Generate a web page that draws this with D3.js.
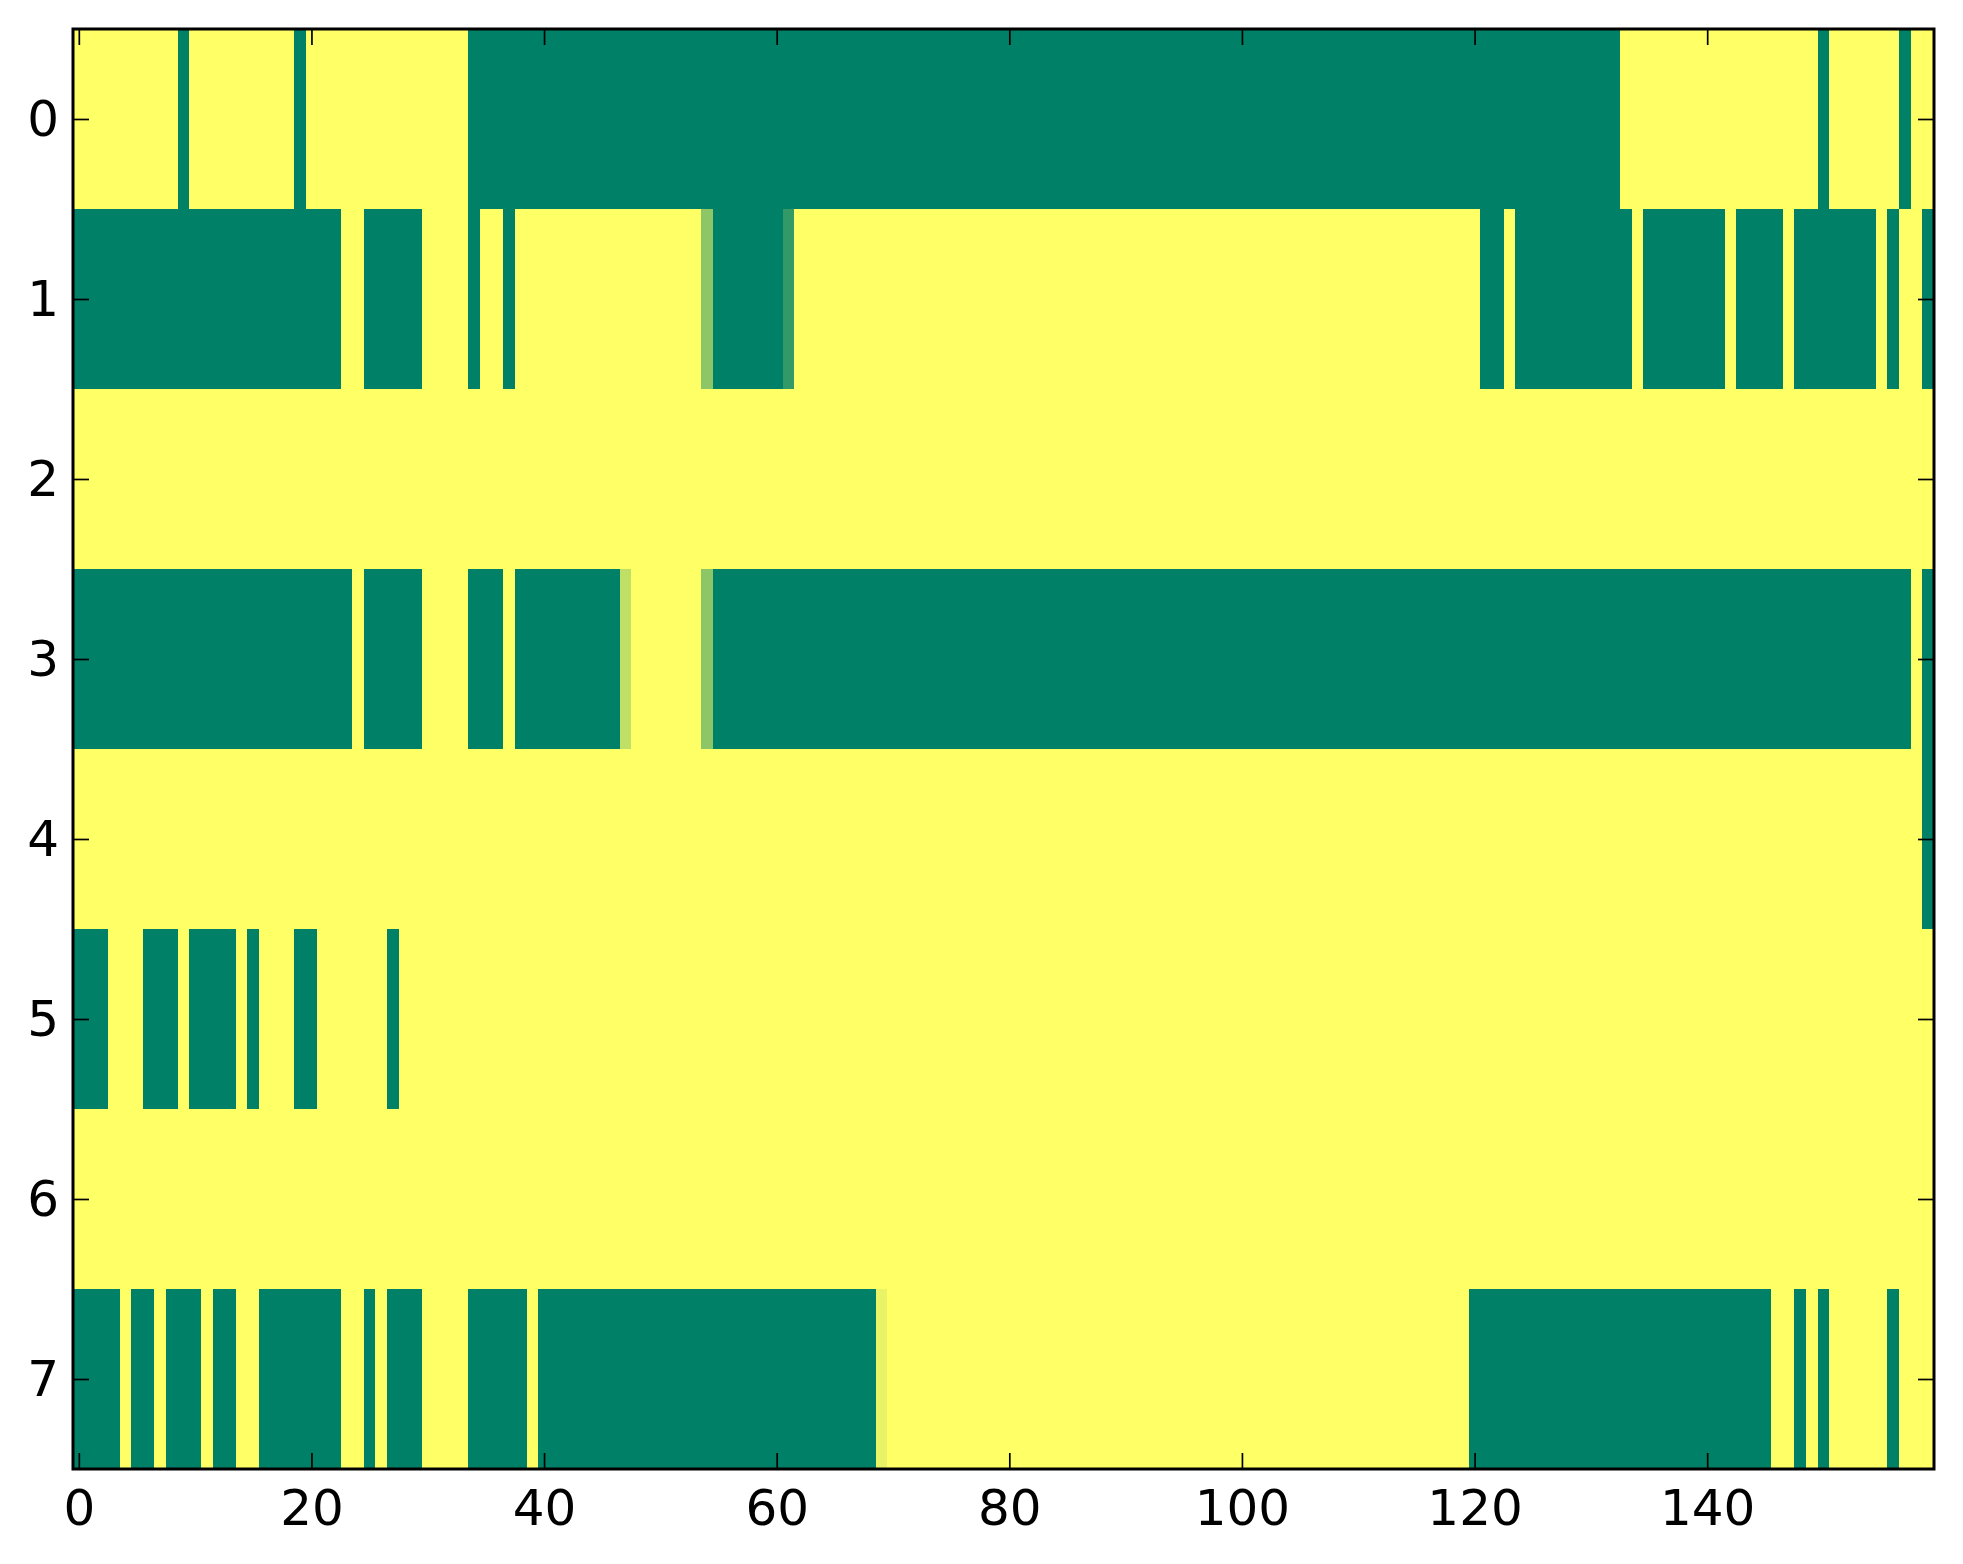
<!DOCTYPE html>
<html>
<head>
<meta charset="utf-8">
<script src="https://cdn.jsdelivr.net/npm/d3@7"></script>
<style>
  body { margin: 0; background: #fff; }
  svg { display: block; }
  .axis text { font-family: "DejaVu Sans", sans-serif; font-size: 50px; fill: #000; }
</style>
</head>
<body>
<script>
// 8 rows x 160 columns, 0 = green end, 1 = yellow end of the "summer" map
var row0 = [
  1,1,1,1,1,1,1,1,1,0, 1,1,1,1,1,1,1,1,1,0,
  1,1,1,1,1,1,1,1,1,1, 1,1,1,1,0,0,0,0,0,0,
  0,0,0,0,0,0,0,0,0,0, 0,0,0,0,0,0,0,0,0,0,
  0,0,0,0,0,0,0,0,0,0, 0,0,0,0,0,0,0,0,0,0,
  0,0,0,0,0,0,0,0,0,0, 0,0,0,0,0,0,0,0,0,0,
  0,0,0,0,0,0,0,0,0,0, 0,0,0,0,0,0,0,0,0,0,
  0,0,0,0,0,0,0,0,0,0, 0,0,0,1,1,1,1,1,1,1,
  1,1,1,1,1,1,1,1,1,1, 0,1,1,1,1,1,1,0,1,1
];
var row1 = [
  0,0,0,0,0,0,0,0,0,0, 0,0,0,0,0,0,0,0,0,0,
  0,0,0,1,1,0,0,0,0,0, 1,1,1,1,0,1,1,0,1,1,
  1,1,1,1,1,1,1,1,1,1, 1,1,1,1,0.55,0,0,0,0,0,
  0,0.2,1,1,1,1,1,1,1,1, 1,1,1,1,1,1,1,1,1,1,
  1,1,1,1,1,1,1,1,1,1, 1,1,1,1,1,1,1,1,1,1,
  1,1,1,1,1,1,1,1,1,1, 1,1,1,1,1,1,1,1,1,1,
  1,0,0,1,0,0,0,0,0,0, 0,0,0,0,1,0,0,0,0,0,
  0,0,1,0,0,0,0,1,0,0, 0,0,0,0,0,1,0,1,1,0
];
var row2 = [
  1,1,1,1,1,1,1,1,1,1, 1,1,1,1,1,1,1,1,1,1,
  1,1,1,1,1,1,1,1,1,1, 1,1,1,1,1,1,1,1,1,1,
  1,1,1,1,1,1,1,1,1,1, 1,1,1,1,1,1,1,1,1,1,
  1,1,1,1,1,1,1,1,1,1, 1,1,1,1,1,1,1,1,1,1,
  1,1,1,1,1,1,1,1,1,1, 1,1,1,1,1,1,1,1,1,1,
  1,1,1,1,1,1,1,1,1,1, 1,1,1,1,1,1,1,1,1,1,
  1,1,1,1,1,1,1,1,1,1, 1,1,1,1,1,1,1,1,1,1,
  1,1,1,1,1,1,1,1,1,1, 1,1,1,1,1,1,1,1,1,1
];
var row3 = [
  0,0,0,0,0,0,0,0,0,0, 0,0,0,0,0,0,0,0,0,0,
  0,0,0,0,1,0,0,0,0,0, 1,1,1,1,0,0,0,1,0,0,
  0,0,0,0,0,0,0,0.75,1,1, 1,1,1,1,0.55,0,0,0,0,0,
  0,0,0,0,0,0,0,0,0,0, 0,0,0,0,0,0,0,0,0,0,
  0,0,0,0,0,0,0,0,0,0, 0,0,0,0,0,0,0,0,0,0,
  0,0,0,0,0,0,0,0,0,0, 0,0,0,0,0,0,0,0,0,0,
  0,0,0,0,0,0,0,0,0,0, 0,0,0,0,0,0,0,0,0,0,
  0,0,0,0,0,0,0,0,0,0, 0,0,0,0,0,0,0,0,1,0
];
var row4 = [
  1,1,1,1,1,1,1,1,1,1, 1,1,1,1,1,1,1,1,1,1,
  1,1,1,1,1,1,1,1,1,1, 1,1,1,1,1,1,1,1,1,1,
  1,1,1,1,1,1,1,1,1,1, 1,1,1,1,1,1,1,1,1,1,
  1,1,1,1,1,1,1,1,1,1, 1,1,1,1,1,1,1,1,1,1,
  1,1,1,1,1,1,1,1,1,1, 1,1,1,1,1,1,1,1,1,1,
  1,1,1,1,1,1,1,1,1,1, 1,1,1,1,1,1,1,1,1,1,
  1,1,1,1,1,1,1,1,1,1, 1,1,1,1,1,1,1,1,1,1,
  1,1,1,1,1,1,1,1,1,1, 1,1,1,1,1,1,1,1,1,0
];
var row5 = [
  0,0,0,1,1,1,0,0,0,1, 0,0,0,0,1,0,1,1,1,0,
  0,1,1,1,1,1,1,0,1,1, 1,1,1,1,1,1,1,1,1,1,
  1,1,1,1,1,1,1,1,1,1, 1,1,1,1,1,1,1,1,1,1,
  1,1,1,1,1,1,1,1,1,1, 1,1,1,1,1,1,1,1,1,1,
  1,1,1,1,1,1,1,1,1,1, 1,1,1,1,1,1,1,1,1,1,
  1,1,1,1,1,1,1,1,1,1, 1,1,1,1,1,1,1,1,1,1,
  1,1,1,1,1,1,1,1,1,1, 1,1,1,1,1,1,1,1,1,1,
  1,1,1,1,1,1,1,1,1,1, 1,1,1,1,1,1,1,1,1,1
];
var row6 = [
  1,1,1,1,1,1,1,1,1,1, 1,1,1,1,1,1,1,1,1,1,
  1,1,1,1,1,1,1,1,1,1, 1,1,1,1,1,1,1,1,1,1,
  1,1,1,1,1,1,1,1,1,1, 1,1,1,1,1,1,1,1,1,1,
  1,1,1,1,1,1,1,1,1,1, 1,1,1,1,1,1,1,1,1,1,
  1,1,1,1,1,1,1,1,1,1, 1,1,1,1,1,1,1,1,1,1,
  1,1,1,1,1,1,1,1,1,1, 1,1,1,1,1,1,1,1,1,1,
  1,1,1,1,1,1,1,1,1,1, 1,1,1,1,1,1,1,1,1,1,
  1,1,1,1,1,1,1,1,1,1, 1,1,1,1,1,1,1,1,1,1
];
var row7 = [
  0,0,0,0,1,0,0,1,0,0, 0,1,0,0,1,1,0,0,0,0,
  0,0,0,1,1,0,1,0,0,0, 1,1,1,1,0,0,0,0,0,1,
  0,0,0,0,0,0,0,0,0,0, 0,0,0,0,0,0,0,0,0,0,
  0,0,0,0,0,0,0,0,0,0.91, 1,1,1,1,1,1,1,1,1,1,
  1,1,1,1,1,1,1,1,1,1, 1,1,1,1,1,1,1,1,1,1,
  1,1,1,1,1,1,1,1,1,1, 1,1,1,1,1,1,1,1,1,1,
  0,0,0,0,0,0,0,0,0,0, 0,0,0,0,0,0,0,0,0,0,
  0,0,0,0,0,0,1,1,0,1, 0,1,1,1,1,1,0,1,1,1
];
var rows = [row0, row1, row2, row3, row4, row5, row6, row7];

var xTicks = [0, 20, 40, 60, 80, 100, 120, 140];
var yTicks = [0, 1, 2, 3, 4, 5, 6, 7];

var W = 1963, H = 1564;
var plot = {left: 73, right: 1934, top: 29, bottom: 1469};
var nCols = row0.length, nRows = rows.length;

var x = d3.scaleLinear().domain([-0.5, nCols - 0.5]).range([plot.left, plot.right]);
var y = d3.scaleLinear().domain([-0.5, nRows - 0.5]).range([plot.top, plot.bottom]);
var color = d3.scaleLinear().domain([0, 1]).range(["#008066", "#ffff66"]);

var svg = d3.select("body").append("svg")
    .attr("width", W)
    .attr("height", H);

var cells = [];
rows.forEach(function(r, i) {
  r.forEach(function(v, j) { cells.push({row: i, col: j, v: v}); });
});

svg.append("g")
    .attr("shape-rendering", "crispEdges")
  .selectAll("rect")
    .data(cells)
  .enter().append("rect")
    .attr("x", function(d) { return x(d.col - 0.5); })
    .attr("y", function(d) { return y(d.row - 0.5); })
    .attr("width", function(d) { return x(d.col + 0.5) - x(d.col - 0.5) + 0.5; })
    .attr("height", function(d) { return y(d.row + 0.5) - y(d.row - 0.5) + 0.5; })
    .style("fill", function(d) { return color(d.v); });

// axes, ticks pointing inward on all four sides
var tickLen = 16;
function styleAxis(g) {
  g.select(".domain").remove();
  g.selectAll(".tick line").attr("stroke", "#000").attr("stroke-width", 1.7);
}

svg.append("g")
    .attr("class", "axis")
    .attr("transform", "translate(0," + plot.bottom + ")")
    .call(d3.axisBottom(x).tickValues(xTicks).tickSizeInner(-tickLen).tickSizeOuter(0).tickPadding(20))
    .call(styleAxis);
svg.append("g")
    .attr("class", "axis")
    .attr("transform", "translate(0," + plot.top + ")")
    .call(d3.axisTop(x).tickValues(xTicks).tickSizeInner(-tickLen).tickSizeOuter(0).tickFormat(""))
    .call(styleAxis);
svg.append("g")
    .attr("class", "axis")
    .attr("transform", "translate(" + plot.left + ",0)")
    .call(d3.axisLeft(y).tickValues(yTicks).tickSizeInner(-tickLen).tickSizeOuter(0).tickPadding(14))
    .call(styleAxis);
svg.append("g")
    .attr("class", "axis")
    .attr("transform", "translate(" + plot.right + ",0)")
    .call(d3.axisRight(y).tickValues(yTicks).tickSizeInner(-tickLen).tickSizeOuter(0).tickFormat(""))
    .call(styleAxis);

// frame
svg.append("rect")
    .attr("x", plot.left)
    .attr("y", plot.top)
    .attr("width", plot.right - plot.left)
    .attr("height", plot.bottom - plot.top)
    .style("fill", "none")
    .style("stroke", "#000")
    .style("stroke-width", 3);
</script>
</body>
</html>
